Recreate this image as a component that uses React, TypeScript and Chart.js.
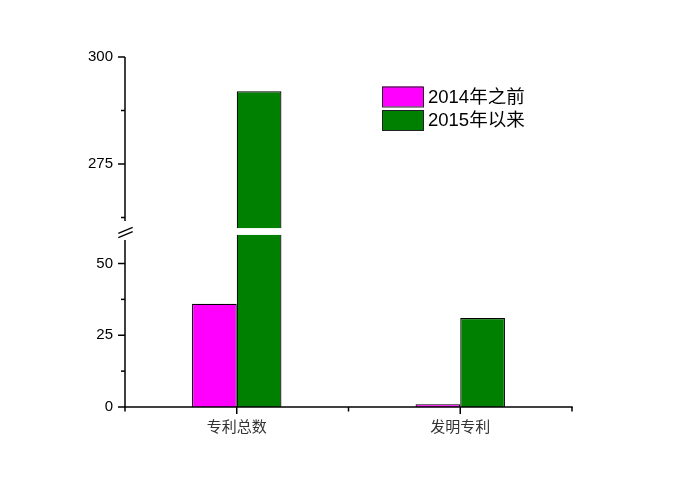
import React, { useEffect, useRef } from "react";
import { Chart, registerables } from "chart.js";

Chart.register(...registerables);

// ---- data ----
const CATEGORIES = ["专利总数", "发明专利"];
const SERIES_NAMES = ["2014年之前", "2015年以来"];
const SERIES_2014 = [36, 1];
const SERIES_2015 = [292, 31];
const SERIES_COLORS = ["#FF00FF", "#008000"];
const Y_TICKS_UPPER = [275, 300];
const Y_MINOR_UPPER = [262.5, 287.5];
const Y_TICKS_LOWER = [0, 25, 50];
const Y_MINOR_LOWER = [12.5, 37.5];
const BREAK_FROM = 60;
const BREAK_TO = 260;
const UPPER_MAX = 300;

// ---- layout ----
const W = 700;
const H = 489;
const LEFT = 125;
const RIGHT = 572;
const TOP = 57;
const BOTTOM = 407;
const BREAK_Y = 231.5;
const UPPER_PX = 4.28;
const LOWER_PX = 2.87;
const UPPER_MIN = UPPER_MAX - (BREAK_Y - TOP) / UPPER_PX;
const LOWER_MAX = (BOTTOM - BREAK_Y) / LOWER_PX;

const LATIN = '"Liberation Sans", Arial, "Noto Sans CJK SC", sans-serif';
const CJK = '"Noto Sans CJK SC", "Liberation Sans", sans-serif';

const decorPlugin = {
  id: "decor",
  afterDraw(chart: any) {
    const ctx = chart.ctx as CanvasRenderingContext2D;
    const x = chart.scales.x;
    const yH = chart.scales.yHigh;
    const yL = chart.scales.yLow;
    const axisX = yL.right;
    const brk = (yH.bottom + yL.top) / 2;
    const line = (x1: number, y1: number, x2: number, y2: number) => {
      ctx.beginPath();
      ctx.moveTo(x1, y1);
      ctx.lineTo(x2, y2);
      ctx.stroke();
    };
    ctx.save();
    ctx.strokeStyle = "#000";
    ctx.lineWidth = 1.5;
    ctx.lineCap = "butt";
    // x axis line
    line(x.left - 0.75, x.top, x.right + 0.75, x.top);
    // y axis segments
    line(axisX, yH.top, axisX, brk - 10.5);
    line(axisX, brk + 8.5, axisX, yL.bottom + 4.5);
    // y ticks
    Y_TICKS_UPPER.forEach((v) => {
      const p = yH.getPixelForValue(v);
      line(axisX - 7, p, axisX, p);
    });
    Y_MINOR_UPPER.forEach((v) => {
      const p = yH.getPixelForValue(v);
      line(axisX - 4, p, axisX, p);
    });
    Y_TICKS_LOWER.forEach((v) => {
      const p = yL.getPixelForValue(v);
      line(axisX - 7, p, axisX, p);
    });
    Y_MINOR_LOWER.forEach((v) => {
      const p = yL.getPixelForValue(v);
      line(axisX - 4, p, axisX, p);
    });
    // x ticks
    CATEGORIES.forEach((_, i) => {
      const p = x.getPixelForValue(i);
      line(p, x.top, p, x.top + 7);
    });
    const n = CATEGORIES.length;
    for (let i = 1; i <= n; i++) {
      const p = x.left + ((x.right - x.left) * i) / n;
      line(p, x.top, p, x.top + 4.5);
    }
    // break marks
    ctx.lineWidth = 1.3;
    line(axisX - 6.7, brk + 1.8, axisX + 7.7, brk - 4.2);
    line(axisX - 6.7, brk + 6.2, axisX + 7.7, brk + 0.2);

    // legend
    const items = chart.data.datasets.filter((d: any) => d.yAxisID === "yLow");
    const LX = 382;
    const LY = 86.5;
    const BW = 41;
    const BH = 20;
    const ROW = 23.5;
    ctx.font = `18.5px ${LATIN}`;
    ctx.textBaseline = "middle";
    ctx.textAlign = "left";
    items.forEach((d: any, i: number) => {
      const y = LY + i * ROW;
      ctx.fillStyle = d.backgroundColor;
      ctx.fillRect(LX, y, BW, BH);
      ctx.strokeStyle = "#222";
      ctx.lineWidth = 1;
      ctx.strokeRect(LX + 0.5, y + 0.5, BW, BH);
      ctx.fillStyle = "#000";
      ctx.fillText(d.label, LX + BW + 5, y + BH / 2 + 1);
    });
    ctx.restore();
  },
};

export default function App() {
  const ref = useRef<HTMLCanvasElement | null>(null);

  useEffect(() => {
    if (!ref.current) return;
    const series = [SERIES_2014, SERIES_2015];
    const datasets: any[] = [];
    series.forEach((vals, s) => {
      datasets.push({
        label: SERIES_NAMES[s],
        data: vals.map((v) => Math.min(v, BREAK_FROM)),
        yAxisID: "yLow",
        stack: "s" + s,
        backgroundColor: SERIES_COLORS[s],
        borderColor: "#000",
        borderWidth: (c: any) =>
          vals[c.dataIndex] > BREAK_FROM ? { left: 1.2, right: 1.2, top: 0, bottom: 0 } : 1.2,
        categoryPercentage: 0.4,
        barPercentage: 1,
      });
      datasets.push({
        label: SERIES_NAMES[s] + " (upper)",
        data: vals.map((v) => (v > BREAK_TO ? v : null)),
        yAxisID: "yHigh",
        stack: "s" + s,
        base: BREAK_TO,
        backgroundColor: SERIES_COLORS[s],
        borderColor: "#000",
        borderWidth: 1.2,
        categoryPercentage: 0.4,
        barPercentage: 1,
      });
    });

    const chart = new Chart(ref.current, {
      type: "bar",
      data: { labels: CATEGORIES, datasets },
      options: {
        animation: false,
        responsive: false,
        devicePixelRatio: 1,
        layout: { padding: { top: TOP, left: 0, right: W - RIGHT, bottom: 0 } },
        plugins: { legend: { display: false }, tooltip: { enabled: false } },
        scales: {
          x: {
            type: "category",
            offset: true,
            grid: { display: false, drawTicks: false, offset: true },
            border: { display: false },
            ticks: {
              font: { family: CJK, size: 15 },
              color: "#333",
              padding: 10,
              maxRotation: 0,
              autoSkip: false,
            },
            afterFit: (s: any) => {
              s.height = H - BOTTOM;
            },
          },
          yHigh: {
            type: "linear",
            position: "left",
            stack: "v",
            stackWeight: BREAK_Y - TOP,
            weight: 1,
            min: UPPER_MIN,
            max: UPPER_MAX,
            bounds: "data",
            beginAtZero: false,
            stacked: false,
            grid: { display: false, drawTicks: false },
            border: { display: false },
            ticks: {
              font: { family: LATIN, size: 15 },
              color: "#000",
              padding: 12,
              autoSkip: false,
            },
            afterBuildTicks: (s: any) => {
              s.ticks = Y_TICKS_UPPER.map((v) => ({ value: v }));
            },
            afterFit: (s: any) => {
              s.width = LEFT;
            },
          },
          yLow: {
            type: "linear",
            position: "left",
            stack: "v",
            stackWeight: BOTTOM - BREAK_Y,
            weight: 0,
            min: 0,
            max: LOWER_MAX,
            bounds: "data",
            beginAtZero: false,
            stacked: false,
            grid: { display: false, drawTicks: false },
            border: { display: false },
            ticks: {
              font: { family: LATIN, size: 15 },
              color: "#000",
              padding: 12,
              autoSkip: false,
            },
            afterBuildTicks: (s: any) => {
              s.ticks = Y_TICKS_LOWER.map((v) => ({ value: v }));
            },
            afterFit: (s: any) => {
              s.width = LEFT;
            },
          },
        },
      } as any,
      plugins: [decorPlugin],
    });
    return () => chart.destroy();
  }, []);

  return (
    <div style={{ position: "fixed", left: 0, top: 0, width: W, height: H, background: "#fff" }}>
      <canvas ref={ref} width={W} height={H} style={{ width: W, height: H, display: "block" }} />
    </div>
  );
}
